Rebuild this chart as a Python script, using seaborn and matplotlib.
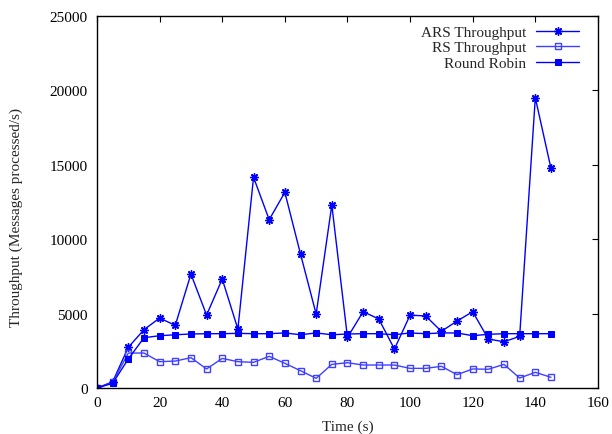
import matplotlib
matplotlib.use("Agg")
import matplotlib.pyplot as plt
import seaborn as sns
import pandas as pd

time_s = [0, 5, 10, 15, 20, 25, 30, 35, 40, 45, 50, 55, 60, 65, 70, 75,
          80, 85, 90, 95, 100, 105, 110, 115, 120, 125, 130, 135, 140, 145]
ars = [0, 420, 2735, 3920, 4700, 4210, 7660, 4900, 7325, 3960, 14160, 11310,
       13150, 9005, 4970, 12300, 3400, 5130, 4640, 2620, 4900, 4840, 3810,
       4500, 5130, 3290, 3110, 3470, 19510, 14760]
rs = [0, 380, 2350, 2350, 1770, 1810, 2040, 1280, 1990, 1770, 1725, 2130,
      1660, 1165, 650, 1590, 1700, 1545, 1545, 1545, 1320, 1320, 1460,
      895, 1280, 1260, 1590, 670, 1055, 720]
rr = [0, 320, 1950, 3380, 3515, 3580, 3630, 3650, 3650, 3675, 3650, 3650,
      3700, 3580, 3700, 3580, 3630, 3650, 3650, 3580, 3700, 3650, 3700,
      3700, 3515, 3610, 3650, 3650, 3650, 3650]
labels = ["ARS Throughput", "RS Throughput", "Round Robin"]

sns.set_style("white")
plt.rcParams['font.family'] = ['Liberation Serif', 'DejaVu Serif']
plt.rcParams['font.size'] = 11

fig = plt.figure(figsize=(6.12, 4.35), dpi=100)
ax = fig.add_axes([0.1585, 0.1057, 0.8185, 0.8553])

df = pd.DataFrame({"t": time_s, "ars": ars, "rs": rs, "rr": rr})
sns.lineplot(data=df, x="t", y="ars", ax=ax, color="#0000ff", lw=1,
             marker=(8, 2, 0), markersize=6, markeredgewidth=1,
             markeredgecolor="#0000ff", label=labels[0])
sns.lineplot(data=df, x="t", y="rs", ax=ax, color="#4040ff", lw=1,
             marker="s", markersize=4.2, markerfacecolor="none",
             markeredgecolor="#4040ff", markeredgewidth=1, label=labels[1])
sns.lineplot(data=df, x="t", y="rr", ax=ax, color="#0000ff", lw=1,
             marker="s", markersize=4.8, markerfacecolor="#0000ff",
             markeredgecolor="#0000ff", label=labels[2])

ax.set_xlim(0, 160)
ax.set_ylim(0, 25000)
ax.set_xticks(range(0, 161, 20))
ax.set_yticks(range(0, 25001, 5000))
ax.tick_params(direction="in", top=True, right=True, length=4.3, width=0.8,
               labelsize=11, colors="black")
ax.tick_params(axis="x", pad=6)
ax.tick_params(axis="y", pad=6.5)
for s in ax.spines.values():
    s.set_color("black")
    s.set_linewidth(1)
ax.set_xlabel("Time (s)", fontsize=11, labelpad=7)
ax.set_ylabel("Throughput (Messages processed/s)", fontsize=11)
ax.yaxis.set_label_coords(-0.148, 0.46)

leg = ax.legend(loc="upper right", frameon=False, markerfirst=False,
                fontsize=11, handlelength=2.8, labelspacing=0.12,
                borderaxespad=0, borderpad=0, handletextpad=0.65,
                bbox_to_anchor=(0.962, 0.975))

fig.savefig("out.png", dpi=100)
